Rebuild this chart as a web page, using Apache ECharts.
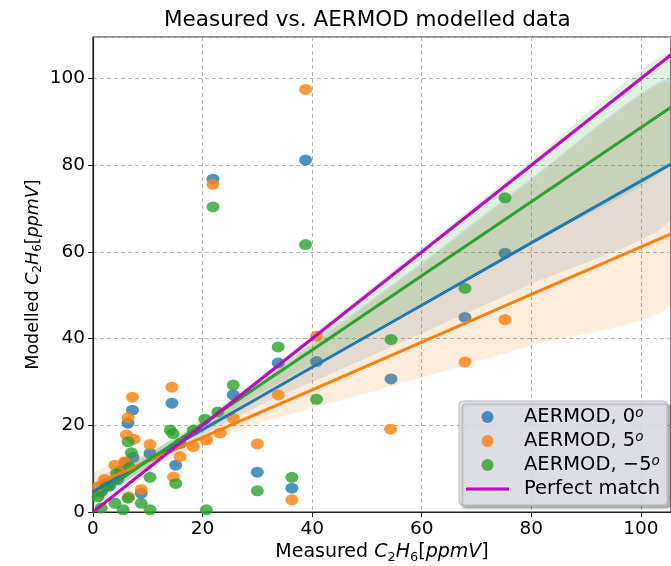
<!DOCTYPE html>
<html><head><meta charset="utf-8">
<script src="https://cdn.jsdelivr.net/npm/echarts@6/dist/echarts.min.js"></script>
<style>html,body{margin:0;padding:0;background:#fff}#c{width:671px;height:566px}</style>
</head><body><div id="c"></div>
<script>
// ---- data ----
const blue0 = [[21.9,76.8],[38.8,81.2],[75.2,59.7],[67.9,44.9],[54.4,30.7],[33.8,34.4],[40.8,34.7],[30.0,9.2],[36.3,5.5],[14.4,25.1],[25.6,27.0],[15.1,10.8],[10.4,13.5],[7.2,23.5],[6.4,20.5],[7.3,12.6],[8.8,4.3],[1.5,4.7],[5.0,9.5],[3.0,6.0],[4.5,7.5],[6.0,11.5]];
const orange5 = [[21.9,75.6],[38.8,97.5],[75.2,44.4],[67.9,34.6],[54.3,19.1],[33.8,27.0],[40.8,40.6],[30.0,15.7],[36.3,2.8],[14.4,28.8],[25.6,21.6],[20.7,16.6],[23.2,18.2],[18.3,15.1],[15.9,12.8],[10.4,15.6],[14.7,8.1],[7.2,26.5],[6.4,21.8],[6.1,17.8],[7.5,16.8],[5.8,11.6],[4.0,10.8],[5.2,8.9],[2.1,7.5],[6.5,3.5],[8.8,5.2],[1.0,5.5]];
const greenM5 = [[21.9,70.4],[38.8,61.7],[75.2,72.5],[67.9,51.6],[54.4,39.8],[33.8,38.1],[40.8,26.0],[30.0,4.9],[36.3,8.0],[25.6,29.3],[20.4,21.4],[22.8,23.1],[14.1,18.9],[14.6,18.1],[18.3,18.9],[15.9,15.8],[10.4,8.0],[15.1,6.6],[20.7,0.5],[10.4,0.5],[5.5,0.5],[1.5,0.9],[6.4,16.2],[7.0,13.7],[6.7,10.3],[4.3,8.9],[0.9,3.5],[6.4,3.2],[8.8,2.0],[4.0,2.0],[2.5,6.0]];

const bandX = [0, 10, 20, 30, 40, 60, 80, 105.5];
const fit0  = [4.7, 11.9, 19.0, 26.2, 33.4, 47.7, 62.1, 80.3];
const lo0   = [2.6, 10.4, 17.7, 24.3, 30.0, 41.2, 52.6, 67.5];
const hi0   = [7.0, 13.6, 20.8, 29.8, 39.0, 57.5, 77.0, 100.0];
const fit5  = [6.2, 11.7, 17.2, 22.7, 28.2, 39.2, 50.2, 64.2];
const lo5   = [3.6, 9.9, 15.6, 20.3, 24.0, 31.0, 38.5, 48.0];
const hi5   = [9.0, 13.6, 20.5, 29.5, 38.5, 57.0, 76.5, 99.0];
const fitM5 = [3.2, 11.8, 20.3, 28.9, 37.4, 54.5, 71.6, 93.4];
const loM5  = [1.2, 10.3, 19.0, 27.0, 34.0, 48.0, 62.0, 80.5];
const hiM5  = [5.2, 13.2, 21.6, 30.7, 40.8, 61.0, 81.0, 106.0];

const perfectX = [0, 110];
const tickInterval = 20;
const xMax = 105.5, yMax = 109.6;

const names = ['AERMOD, 0', 'AERMOD, 5', 'AERMOD, \u22125', 'Perfect match'];
const colors = ['#1f77b4', '#ff7f0e', '#2ca02c', '#bf00bf'];
const bandFills = ['rgba(31,119,180,0.15)', 'rgba(255,127,14,0.15)', 'rgba(44,160,44,0.15)'];

// ---- build options ----
const pts = [blue0, orange5, greenM5];
const fits = [fit0, fit5, fitM5];
const los = [lo0, lo5, loM5];
const his = [hi0, hi5, hiM5];

const series = [];
let z = 2;
for (let k = 0; k < 3; k++) {
  series.push({
    name: names[k], type: 'scatter', data: pts[k], z: z++,
    symbol: 'circle', symbolSize: [13, 11],
    itemStyle: { color: colors[k], opacity: 0.8 },
    emphasis: { disabled: true }
  });
  const kk = k;
  series.push({
    name: 'band' + k, type: 'custom', z: z++, silent: true, clip: true,
    data: bandX.map((x, i) => [x, los[k][i], his[k][i]]),
    encode: { x: 0, y: [1, 2] },
    renderItem: function (params, api) {
      if (params.dataIndex !== 0) return null;
      const up = bandX.map((x, i) => api.coord([x, his[kk][i]]));
      const dn = bandX.map((x, i) => api.coord([x, los[kk][i]])).reverse();
      return { type: 'polygon', shape: { points: up.concat(dn), smooth: 0.2 }, style: { fill: bandFills[kk], stroke: null } };
    }
  });
}
for (let k = 0; k < 3; k++) {
  series.push({
    name: 'fit' + k, type: 'line', z: 20 + k,
    data: bandX.map((x, i) => [x, fits[k][i]]),
    symbol: 'none', lineStyle: { color: colors[k], width: 3 }, silent: true
  });
}
series.push({
  name: names[3], type: 'line', z: 30,
  data: perfectX.map(v => [v, v]),
  symbol: 'none', lineStyle: { color: colors[3], width: 3 }, itemStyle: { color: colors[3] }
});

const font = 'DejaVu Sans';
const AF = 19;
const axisRich = {
  t: { fontSize: AF, fontFamily: font, color: '#000', lineHeight: 24 },
  i: { fontSize: AF, fontFamily: font, fontStyle: 'italic', color: '#000', lineHeight: 24 },
  u: { fontSize: AF, fontFamily: font, color: '#000', lineHeight: 24 },
  b: { fontSize: 13, fontFamily: font, color: '#000', lineHeight: 14, verticalAlign: 'bottom' }
};
const axisRichY = {
  t: { fontSize: 17.5, fontFamily: font, color: '#000', lineHeight: 22 },
  i: { fontSize: 17.5, fontFamily: font, fontStyle: 'italic', color: '#000', lineHeight: 22 },
  u: { fontSize: 17.5, fontFamily: font, color: '#000', lineHeight: 22 },
  b: { fontSize: 12, fontFamily: font, color: '#000', lineHeight: 13, verticalAlign: 'bottom' }
};
const axisName = w => '{t|' + w + ' }{i|C}{b|2}{i|H}{b|6}{u|[}{i|ppmV}{u|]}';

const option = {
  animation: false,
  backgroundColor: '#fff',
  title: {
    text: 'Measured vs. AERMOD modelled data', left: 159, top: 4,
    textStyle: { fontSize: 21.5, fontWeight: 'normal', color: '#000', fontFamily: font }
  },
  grid: { left: 93, right: 0, top: 37, bottom: 54, outerBoundsMode: 'none', containLabel: false,
    show: true, borderColor: '#222', borderWidth: 1.2, backgroundColor: 'transparent' },
  xAxis: {
    type: 'value', min: 0, max: xMax, interval: tickInterval,
    name: axisName('Measured'), nameLocation: 'middle', nameGap: 28, nameMoveOverlap: false,
    nameTextStyle: { rich: axisRich },
    axisLine: { show: true, onZero: false, lineStyle: { color: '#222', width: 1.2 } },
    axisTick: { show: true, inside: false, length: 5, lineStyle: { color: '#222' } },
    axisLabel: { fontSize: 18.5, color: '#000', fontFamily: font, margin: 8, showMaxLabel: false,
      formatter: v => (v % tickInterval === 0 ? String(v) : '') },
    splitLine: { show: true, lineStyle: { color: '#b0b0b0', type: [4, 3], width: 1 } }
  },
  yAxis: {
    type: 'value', min: 0, max: yMax, interval: tickInterval,
    name: axisName('Modelled'), nameLocation: 'middle', nameGap: 49, nameRotate: 90, nameMoveOverlap: false,
    nameTextStyle: { rich: axisRichY },
    axisLine: { show: true, onZero: false, lineStyle: { color: '#222', width: 1.2 } },
    axisTick: { show: true, inside: false, length: 5, lineStyle: { color: '#222' } },
    axisLabel: { fontSize: 18.5, color: '#000', fontFamily: font, margin: 8, showMaxLabel: false,
      formatter: v => (v % tickInterval === 0 ? String(v) : '') },
    splitLine: { show: true, lineStyle: { color: '#b0b0b0', type: [4, 3], width: 1 } }
  },
  legend: {
    orient: 'vertical', left: 459, top: 401,
    data: [
      { name: names[0], icon: 'circle' },
      { name: names[1], icon: 'circle' },
      { name: names[2], icon: 'circle' },
      { name: names[3], icon: 'path://M0,0L43,0L43,3L0,3Z' }
    ],
    itemWidth: 43, itemHeight: 12, itemGap: 2,
    padding: [5, 7, 5, 7],
    backgroundColor: 'rgba(228,228,236,0.85)', borderColor: '#b5b5bd', borderWidth: 1, borderRadius: 4,
    shadowColor: 'rgba(0,0,0,0.35)', shadowBlur: 2, shadowOffsetX: 3, shadowOffsetY: 3,
    selectedMode: false,
    textStyle: {
      fontSize: 19.5, color: '#000', fontFamily: font, lineHeight: 22,
      rich: {
        t: { fontSize: 19.5, color: '#000', fontFamily: font, lineHeight: 22, padding: [0, 0, 0, 10] },
        s: { fontSize: 13.5, color: '#000', fontFamily: font, fontStyle: 'italic', lineHeight: 13, verticalAlign: 'top' }
      }
    },
    formatter: n => (n === names[3] ? '{t|' + n + '}' : '{t|' + n + '}{s|o}')
  },
  series: series
};

const chart = echarts.init(document.getElementById('c'), null, { renderer: 'canvas' });
chart.setOption(option);
</script>
</body></html>
